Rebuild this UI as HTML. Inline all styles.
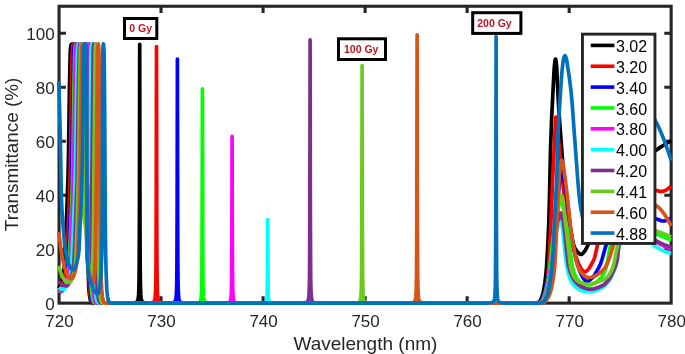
<!DOCTYPE html>
<html lang="en"><head><meta charset="utf-8"><title>Transmittance vs Wavelength</title>
<style>html,body{margin:0;padding:0;background:#fff}svg{display:block}</style></head>
<body>
<svg width="685" height="354" viewBox="0 0 685 354">
<rect width="685" height="354" fill="#fff"/>
<defs><clipPath id="ax"><rect x="56.5" y="4.7" width="616.2" height="300.6"/></clipPath></defs>
<g stroke="#262626" stroke-width="3.1" fill="none" stroke-linecap="butt">
<rect x="59.05" y="6.25" width="612.1" height="296.9"/>
<path d="M161.03 303.20v-6.90M161.03 6.10v6.90M263.07 303.20v-6.90M263.07 6.10v6.90M365.10 303.20v-6.90M365.10 6.10v6.90M467.13 303.20v-6.90M467.13 6.10v6.90M569.17 303.20v-6.90M569.17 6.10v6.90M59.00 249.20h6.90M671.20 249.20h-6.90M59.00 195.20h6.90M671.20 195.20h-6.90M59.00 141.20h6.90M671.20 141.20h-6.90M59.00 87.20h6.90M671.20 87.20h-6.90M59.00 33.20h6.90M671.20 33.20h-6.90"/>
</g>
<g clip-path="url(#ax)" fill="none" stroke-width="3.7" stroke-linejoin="round" stroke-linecap="butt">
<path d="M58.80 288.50 L60.25 285.41 L61.15 283.23 L61.90 280.95 L62.60 278.20 L63.30 274.65 L64 270.08 L64.50 263.32 L66.85 211.21 L68 176.61 L68.50 153.75 L69.45 87.83 L70.20 53.05 L70.40 49.57 L70.90 45.55 L71.15 44.75 L71.65 44.25 L72.10 44.02 L72.75 44.11 L73.35 44.70 L73.55 45.96 L73.75 49 L74.30 160 L75.35 172.61 L75.90 177.38 L76.50 181.35 L77.10 184.20 L77.75 186.23 L78.45 187.45 L78.85 187.80 L79.30 187.98 L79.65 187.99 L79.90 187.85 L80.40 187.04 L80.95 185.27 L81.45 182.78 L81.95 179.37 L82.45 174.97 L83.35 164.01 L83.70 143.88 L84.75 51.35 L85 47.19 L85.35 44.30 L85.50 44 L85.60 44.19 L85.85 46.22 L86.10 50 L86.20 53.38 L86.45 72.70 L86.80 114.02 L87.35 219.41 L87.70 249.37 L88.10 268.66 L88.80 287.89 L89.05 291.51 L89.65 296.31 L90.25 299.69 L90.85 301.63 L91.10 302 L91.90 302.64 L92.55 302.99 L93.15 303.17 L124.70 303.15 L130.50 303.08 L133.65 302.92 L135.65 302.57 L136.30 302.31 L136.85 301.93 L137.30 301.41 L137.65 300.76 L138.15 298.96 L138.60 294.92 L138.90 287.97 L139.10 277.31 L139.25 260.50 L139.45 202.16 L139.70 44.27 L140 223.54 L140.15 260.50 L140.40 283.66 L140.75 294.14 L141 297.21 L141.35 299.45 L141.80 300.87 L142.40 301.79 L143.25 302.38 L144.55 302.76 L146.55 302.98 L149.85 303.10 L166.10 303.19 L534 303.20 L535.55 303.07 L537.20 302.69 L539.15 301.92 L539.60 301.53 L540.10 300.84 L540.75 299.63 L541.45 297.97 L542.45 295.15 L542.95 293.45 L543.90 288.95 L544.90 282.43 L545.90 274.06 L546.50 267.18 L547.65 248.28 L548.80 222.33 L549.30 204.16 L550.55 148.34 L551.65 117.94 L554 71.04 L554.30 67.01 L554.80 62.42 L555.15 59.98 L555.45 59.02 L555.55 59.02 L555.70 59.32 L556 60.81 L556.70 67.19 L557.80 92 L558.70 107.27 L559.80 123.59 L563.80 176.99 L565 190.30 L566.20 200.92 L567.55 211.02 L569.05 220.71 L571.85 236.84 L573.20 243.37 L573.70 245.15 L574.15 246.37 L575 248.28 L575.85 249.85 L577.20 251.69 L578.60 253.05 L579.50 253.78 L580.20 254.19 L580.80 254.37 L581.30 254.38 L581.85 254.19 L582.45 253.77 L583.10 253.14 L585.05 250.75 L585.90 249.26 L587.80 245.38 L598.15 225.34 L602.05 218.43 L606.90 210.28 L614.80 197.78 L625.65 181.63 L631 173.92 L635.30 168.26 L638.15 164.93 L640.90 162.12 L644.35 159.01 L648.15 155.94 L653.20 152.24 L660.60 147.14 L666 143.71 L671.20 140.70" stroke="#000000"/>
<path d="M58.80 291.88 L59.30 291.49 L59.85 290.85 L61 288.89 L62.90 284.68 L64 281.58 L64.85 278.23 L65.65 273.92 L66.25 269.69 L66.55 265.76 L68.90 212.51 L70.05 176.92 L70.55 153.10 L71.45 88.12 L72.15 53.87 L72.35 49.80 L72.85 45.56 L73.10 44.74 L73.60 44.23 L74.05 44.01 L74.70 44.14 L75.25 44.70 L75.45 45.97 L75.65 49 L76.20 160 L77.15 172.84 L77.65 177.67 L78.15 181.38 L78.70 184.31 L79.25 186.25 L79.85 187.45 L80.20 187.80 L80.55 187.97 L80.85 187.99 L81.05 187.88 L81.50 187.02 L81.95 185.31 L82.40 182.67 L83.25 174.98 L84.05 163.93 L84.40 143.67 L85.45 51.35 L85.70 47.19 L86.05 44.31 L86.20 44 L86.30 44.19 L86.60 46.86 L86.90 53.38 L87.15 72.70 L87.50 114.02 L88.05 219.41 L88.40 249.38 L88.80 268.66 L89.50 287.90 L89.75 291.51 L90.30 295.97 L90.90 299.47 L91.50 301.53 L91.75 301.95 L92.40 302.50 L93.05 302.90 L93.70 303.14 L136.40 303.17 L145 303.12 L149.35 303 L151.80 302.74 L152.60 302.53 L153.25 302.23 L153.80 301.80 L154.20 301.28 L154.55 300.53 L154.80 299.70 L155.10 298.07 L155.30 296.27 L155.65 289.75 L155.90 277.55 L156.05 260.90 L156.25 203.11 L156.50 46.70 L156.80 224.28 L156.95 260.90 L157.15 281.02 L157.45 292.32 L157.70 296.27 L158 298.72 L158.40 300.39 L158.90 301.43 L159.65 302.17 L160.75 302.63 L162.55 302.92 L165.50 303.07 L180.35 303.18 L535.55 303.20 L536.80 303.12 L538.10 302.88 L539.40 302.51 L540.75 301.98 L541.20 301.63 L541.70 300.98 L542.75 298.90 L544.30 294.70 L545.20 291.52 L546.05 287.54 L546.90 282.50 L547.85 275.42 L548.30 270.89 L549 260.67 L549.85 244.72 L551.05 219.46 L552.70 177.84 L555.20 127.58 L555.70 118.68 L555.90 117 L556.10 118.01 L556.60 124 L558.45 139.56 L559.90 153.09 L564.60 201.66 L566.25 214.03 L568.15 225.65 L569.90 234.54 L571.65 241.99 L573.75 249.53 L576.55 258.41 L578.25 262.93 L580.55 267.78 L581.70 269.49 L583 270.86 L583.85 271.53 L584.65 271.80 L585.50 271.63 L586.60 270.99 L587.95 269.88 L588.95 268.52 L591.10 264.99 L593.05 261.40 L594.10 258.93 L594.75 256.97 L597.15 246.57 L598.60 241.24 L599.55 238.19 L600.65 235.47 L602.25 231.95 L603.80 228.87 L605.40 225.96 L607.45 222.59 L609.75 219.16 L617.80 208.23 L622.45 202.27 L624.40 200.03 L626.20 198.15 L627.75 196.72 L629.25 195.52 L635.10 191.65 L638.75 189.63 L640.35 188.94 L641.85 188.45 L643.15 188.16 L644.40 188.02 L645.65 188.02 L647.05 188.15 L649.30 188.60 L654.80 190.14 L659.10 191.12 L660.70 191.37 L662.10 191.37 L663.15 191.21 L664.25 190.89 L665.35 190.43 L666.50 189.81 L668.80 188.13 L671.20 185.83" stroke="#ff0000"/>
<path d="M58.80 291.80 L59.50 291.98 L60.25 291.96 L60.80 291.63 L61.35 291 L62 289.96 L62.70 288.56 L64.80 283.66 L65.80 280.52 L66.65 276.77 L67.55 271.23 L67.95 267.31 L68.45 257.83 L70.30 215.03 L70.95 197.26 L71.50 178.80 L71.95 159.25 L72.90 91.12 L73.65 53.87 L73.85 49.80 L74.35 45.56 L74.65 44.68 L75.15 44.19 L75.60 44.01 L76.20 44.14 L76.75 44.70 L76.95 45.97 L77.15 49 L77.70 160 L78.55 172.50 L79 177.31 L79.50 181.37 L80 184.28 L80.50 186.21 L81.05 187.43 L81.35 187.78 L81.70 187.97 L81.95 188 L82.15 187.86 L82.55 186.97 L82.95 185.22 L83.35 182.58 L84.15 174.49 L84.85 163.88 L85.20 143.51 L86.25 51.35 L86.50 47.19 L86.85 44.31 L87 44 L87.10 44.20 L87.40 46.86 L87.70 53.38 L87.95 72.70 L88.30 114.02 L88.85 219.41 L89.20 249.38 L89.55 266.85 L90.25 286.95 L90.55 291.51 L90.95 294.88 L91.60 298.98 L92.25 301.41 L92.55 301.95 L93 302.35 L93.70 302.82 L94.35 303.10 L95 303.20 L144.70 303.19 L162.05 303.16 L169.05 303.06 L172.05 302.86 L173.80 302.45 L174.40 302.12 L174.85 301.71 L175.25 301.11 L175.55 300.38 L175.90 298.94 L176.15 297.11 L176.50 291.72 L176.75 282.09 L176.90 269.54 L177.15 207.96 L177.40 59.12 L177.70 228.11 L177.85 262.94 L178.05 282.09 L178.35 292.84 L178.55 296.04 L178.85 298.64 L179.20 300.22 L179.70 301.37 L180.35 302.08 L181.30 302.56 L182.95 302.88 L185.70 303.06 L199.50 303.18 L535.50 303.20 L537.30 303.03 L539.15 302.54 L540.65 301.92 L541.05 301.56 L541.45 301.02 L542.50 298.92 L544.05 294.86 L545.15 290.74 L547.40 279.52 L548.40 275.34 L549.45 272.38 L551.45 268.39 L552.20 266.60 L553 264.06 L553.65 261.20 L554.20 256.55 L554.80 249.09 L558.25 196.82 L558.95 187.59 L559.70 180.52 L560.35 175.78 L561.20 171.98 L561.45 171.27 L561.70 171 L561.95 171.24 L562.20 171.86 L563.15 175.44 L566.05 191.03 L567 198.06 L569.90 223.61 L570.75 230.36 L572.85 243.83 L573.90 249.50 L575.05 254.98 L576.35 260.36 L577.80 265.35 L579.25 269.60 L580.90 273.64 L582.15 276.35 L583.15 278.05 L585.10 280.32 L585.75 280.89 L586.35 281.25 L587 281.40 L587.90 281.26 L588.80 280.87 L589.80 280.21 L592.80 277.50 L593.60 276.50 L594.55 275.04 L598.90 267.37 L600.60 263.75 L602.15 258.99 L605.55 246.71 L607.15 242.64 L608.85 238.96 L610.55 235.97 L612.20 233.77 L615.35 230.49 L617 229.03 L618.65 227.73 L620.80 226.25 L623.05 224.95 L629.40 222.06 L632.60 220.76 L635.40 219.75 L638 218.98 L640.40 218.44 L642.75 218.11 L645 218 L648.35 218.11 L652.15 218.45 L656.90 219.09 L658.05 219.45 L661.30 220.72 L662.25 220.94 L663.15 221 L665.20 220.79 L667.20 220.22 L669.20 219.29 L671.20 218.00" stroke="#0000ff"/>
<path d="M58.80 291 L59.75 291.38 L60.80 291.50 L61.35 291.43 L61.90 291.04 L62.55 290.22 L63.25 288.99 L65.25 284.56 L66.45 281.27 L67.45 277.29 L68.45 271.48 L68.95 266.86 L69.45 257.40 L71.30 214.68 L71.95 196.95 L72.50 178.53 L72.95 159.02 L73.90 91.03 L74.65 53.85 L74.85 49.79 L75.35 45.55 L75.50 44.95 L75.70 44.62 L76.20 44.16 L76.65 44 L77.25 44.17 L77.75 44.70 L77.95 45.97 L78.15 49 L78.70 160 L79.55 172.50 L80 177.31 L80.50 181.37 L81 184.28 L81.50 186.21 L82.05 187.43 L82.35 187.78 L82.70 187.97 L82.95 188 L83.15 187.86 L83.55 186.97 L83.95 185.22 L84.35 182.58 L85.15 174.49 L85.85 163.88 L86.20 143.51 L87.25 51.35 L87.50 47.19 L87.85 44.31 L88 44 L88.10 44.20 L88.40 46.86 L88.70 53.38 L89 77.82 L89.30 114.02 L89.85 219.41 L90.15 245.93 L90.50 265 L91.20 285.93 L91.50 290.95 L91.85 294.10 L92.55 298.73 L93.20 301.29 L93.45 301.81 L93.80 302.18 L94.55 302.74 L95.25 303.07 L96 303.20 L175.75 303.19 L192.55 303.11 L196.25 302.97 L198.30 302.69 L199 302.46 L199.55 302.15 L200 301.72 L200.35 301.18 L200.75 300.10 L201.05 298.60 L201.45 294.10 L201.70 287.02 L201.90 273.63 L202.15 219.55 L202.40 88.82 L202.70 237.24 L202.85 267.84 L203.05 284.66 L203.35 294.10 L203.55 296.91 L203.80 298.91 L204.15 300.44 L204.60 301.44 L205.25 302.15 L206.15 302.59 L208.15 302.94 L211.85 303.10 L235.75 303.19 L536.05 303.20 L537.50 303.08 L539 302.75 L540.35 302.28 L541.25 301.85 L541.85 301.17 L542.55 299.94 L543.55 297.57 L544.90 293.81 L545.75 290.75 L546.60 287.03 L548.05 279.43 L549.25 271.92 L550.10 264.66 L552.30 243.43 L552.90 238.69 L553.65 233.83 L554.80 227.29 L559 205.23 L559.55 202.87 L560.35 200.17 L560.70 199.29 L561 199 L561.30 199.28 L561.60 200 L562.30 202.35 L562.70 204.07 L564.90 217.46 L567.40 230 L569.05 241.33 L571.80 263.06 L572.25 265.76 L573 268.95 L573.90 272.07 L574.85 274.63 L576 276.92 L577.55 279.50 L578.80 281.18 L580 282.38 L580.90 282.95 L582.80 283.73 L585.50 284.56 L588 284.96 L589.95 284.93 L591.95 284.43 L594.70 283.19 L596.25 282.36 L597.20 281.71 L599.20 279.83 L601.45 277.07 L602.75 275.14 L603.95 272.94 L605.10 270.38 L606.15 267.54 L607.15 263.24 L609.10 252.12 L609.95 247.96 L610.35 246.46 L610.95 244.73 L612.75 240.19 L614.30 237.16 L615.05 236.04 L615.75 235.23 L617.25 233.97 L618.90 232.74 L620.50 231.72 L622.10 230.84 L623.75 230.11 L625.35 229.56 L626.95 229.17 L628.65 228.92 L633.35 228.41 L637.65 228.11 L642.10 228 L643.75 228.17 L645.60 228.66 L647.65 229.49 L654 232.87 L656.05 233.85 L671.20 240.00" stroke="#00ff00"/>
<path d="M58.80 290 L59.60 290.54 L60.40 290.85 L61.40 290.99 L62.15 290.93 L62.65 290.59 L63.20 289.95 L64.45 287.72 L66.55 282.91 L67.75 279.14 L68.35 276.54 L68.90 273.58 L69.55 269.20 L69.75 267.10 L70.25 258.15 L72.15 214.72 L72.80 197.23 L73.40 177.27 L73.90 154.36 L74.85 86.95 L75.55 53.44 L75.75 49.64 L76.25 45.51 L76.40 44.93 L76.60 44.61 L77.10 44.16 L77.55 44 L78.15 44.17 L78.65 44.70 L78.85 45.97 L79.05 49 L79.60 160 L80.55 172.62 L81.05 177.41 L81.60 181.42 L82.15 184.29 L82.70 186.20 L83.35 187.47 L83.70 187.81 L84.05 187.97 L84.35 188 L84.60 187.85 L85.05 186.98 L85.50 185.30 L85.95 182.75 L86.85 174.80 L87.65 163.95 L88 143.71 L89.05 51.35 L89.30 47.19 L89.65 44.31 L89.80 44 L89.90 44.20 L90.20 46.86 L90.50 53.38 L90.80 77.82 L91.10 114.02 L91.65 219.41 L91.95 245.93 L92.30 265 L93 285.93 L93.30 290.95 L93.65 294.10 L94.35 298.73 L95 301.29 L95.25 301.81 L95.60 302.18 L96.35 302.74 L97.05 303.07 L97.80 303.20 L220.85 303.15 L225.20 303.06 L227.60 302.87 L229 302.51 L229.50 302.22 L229.90 301.83 L230.35 301.05 L230.65 300.09 L231.10 296.78 L231.40 290.61 L231.60 280.19 L231.85 238.09 L232.10 136.34 L232.40 251.86 L232.55 275.68 L232.75 288.77 L233.05 296.12 L233.25 298.30 L233.50 299.86 L233.85 301.05 L234.30 301.83 L234.95 302.38 L235.85 302.73 L237.90 303 L241.65 303.13 L266.60 303.19 L536.35 303.20 L537.65 303.10 L539 302.83 L541.45 301.92 L542 301.42 L542.55 300.63 L543.60 298.52 L545 295 L546.25 290.86 L547.80 283.87 L549.95 272.46 L553.60 247.49 L555.80 233.94 L556.90 227.80 L557.85 223.55 L559.10 219.43 L559.90 217.65 L560.55 216.77 L560.95 216.50 L561.20 216.55 L561.45 216.75 L562.10 217.70 L562.45 218.95 L562.85 221.26 L564.70 236.68 L566.30 252.67 L567 258 L567.75 261.82 L568.55 265.15 L569.45 268.27 L570.90 272.72 L572.40 276.84 L573.65 279.60 L574.65 281.21 L576.70 283.74 L578.65 285.68 L580.60 287.10 L582 287.80 L585.60 289.08 L587.15 289.48 L588.55 289.71 L589.85 289.80 L591.20 289.75 L592.65 289.55 L594.20 289.21 L597.55 288.06 L602.05 285.97 L603.60 284.99 L604.75 284.03 L605.95 282.85 L608.65 279.67 L610.25 277.17 L612.05 273.63 L614.50 268.18 L615.85 264.36 L616.65 261.38 L617.10 259.17 L618.55 246.68 L619.25 244.12 L620.15 241.51 L621.25 239.08 L622.30 237.57 L623 237 L625.70 235.62 L627.90 234.67 L630.15 233.85 L632.45 233.19 L634.75 232.67 L637.35 232.27 L639.95 232.05 L642.25 232.01 L643.50 232.22 L645.20 232.95 L647.05 234.18 L648.90 235.72 L653.55 239.95 L656.05 241.79 L660.10 244.02 L664 245.97 L667.70 247.63 L671.20 249.00" stroke="#ff00ff"/>
<path d="M58.80 287.60 L59.85 288.40 L60.90 288.91 L62.10 289.22 L63.50 289.30 L63.95 289.18 L64.40 288.86 L65.40 287.52 L66.35 285.70 L67.95 282.14 L68.70 280.22 L69.30 278.34 L69.95 275.78 L70.55 272.79 L71.15 269.07 L71.50 266.19 L72.05 256.82 L73.95 214.29 L74.60 197.32 L75.20 178.04 L75.75 153.79 L76.70 87.50 L77.45 52.65 L77.70 48.82 L78.15 45.42 L78.30 44.88 L78.55 44.54 L79 44.15 L79.45 44 L80.05 44.17 L80.55 44.70 L80.75 45.97 L80.95 49 L81.50 160 L82.45 172.51 L82.95 177.28 L83.50 181.29 L84.05 184.18 L84.65 186.25 L85.30 187.48 L85.65 187.81 L86 187.97 L86.30 188 L86.55 187.86 L87 187.03 L87.50 185.18 L87.95 182.62 L88.85 174.71 L89.65 163.96 L90 143.73 L91.05 51.35 L91.30 47.19 L91.65 44.31 L91.80 44 L91.90 44.20 L92.20 46.86 L92.50 53.38 L92.80 77.82 L93.10 114.02 L93.65 219.41 L93.95 245.93 L94.30 265 L94.95 284.83 L95.25 290.30 L95.60 293.70 L96.30 298.46 L96.95 301.15 L97.40 302 L98.20 302.64 L99 303.05 L99.80 303.20 L254.25 303.18 L262.65 303.07 L264.35 302.90 L265.35 302.60 L265.80 302.28 L266.15 301.83 L266.45 301.11 L266.65 300.27 L266.95 297.64 L267.15 293.43 L267.40 277.45 L267.70 219.50 L268 277.45 L268.15 289.40 L268.35 295.96 L268.65 299.65 L268.90 300.94 L269.20 301.74 L269.60 302.28 L270.15 302.65 L270.90 302.87 L272 303.02 L276.40 303.16 L289.10 303.19 L536.60 303.20 L538 303.09 L539.45 302.78 L540.80 302.33 L541.85 301.86 L542.45 301.28 L543.10 300.33 L544.20 298.13 L545.65 294.62 L546.40 292.40 L547.15 289.71 L548.80 282.41 L550.50 273.16 L551.40 266.13 L553.60 246.12 L554.20 241.76 L554.80 238.44 L556.15 232.28 L557.55 227.43 L558.40 225.15 L559.05 223.73 L559.95 222.39 L560.45 222 L560.70 222.05 L560.95 222.24 L561.55 223.10 L562 225.06 L563.40 236.74 L565.05 254.11 L565.85 260.54 L566.60 265.40 L567.30 269.11 L568.35 273.40 L569.40 276.98 L570.40 279.71 L571.45 281.84 L572.85 284.06 L574.35 285.88 L576.55 287.80 L578.70 289.27 L580.45 290.11 L582.95 290.88 L584.90 291.37 L586.60 291.67 L588.10 291.79 L589.70 291.76 L591.50 291.56 L593.35 291.19 L595.35 290.65 L597.50 289.91 L601.30 288.36 L603.15 287.19 L604.35 286.18 L605.65 284.88 L608.55 281.44 L610.30 278.74 L612.15 275.09 L614.65 269.20 L616 265.27 L616.85 262.04 L617.45 259.13 L618.85 246.69 L619.95 243 L620.95 240.58 L621.90 238.98 L622.75 238.14 L624.15 237.49 L626.45 236.58 L628.80 235.82 L631.15 235.19 L633.60 234.70 L636.35 234.31 L639.20 234.07 L642.10 234 L643.15 234.19 L643.95 234.54 L644.75 235.03 L646.50 236.55 L648.30 238.54 L653.10 244.43 L654.55 245.91 L655.85 246.96 L660.45 249.47 L664.45 251.31 L667.95 252.52 L671.20 253.20" stroke="#00ffff"/>
<path d="M58.80 281 L59.80 282.38 L60.90 283.59 L62.05 284.54 L63.15 285.19 L64.55 285.68 L66 285.88 L67.10 285.87 L67.75 285.39 L68.50 284.24 L69.35 282.41 L70.90 278.48 L71.70 275.99 L72.30 273.55 L72.85 270.68 L73.80 263.72 L74.30 254.53 L75.95 212.70 L77.05 176.77 L77.50 155.12 L78.30 91.42 L79 53.13 L79.20 49.18 L79.65 45.28 L79.80 44.77 L80.05 44.44 L80.40 44.13 L80.75 44 L83.50 44.13 L85.60 44.60 L85.85 45.92 L86.05 49 L86.30 100 L86.40 225 L86.50 234.36 L86.75 249.03 L87 255.40 L87.45 260.89 L87.90 264.97 L88.30 267.21 L88.50 267.80 L88.70 268 L90.50 268 L90.75 263.12 L91.60 209.34 L93.05 56.58 L93.20 50 L93.60 45.19 L93.80 44.14 L93.90 44 L93.95 44.05 L94.10 44.76 L94.30 46.86 L94.60 53.38 L94.90 77.82 L95.20 114.02 L95.75 219.41 L96.05 245.93 L96.40 265 L97.10 285.93 L97.40 290.95 L97.75 294.10 L98.45 298.73 L99.10 301.29 L99.35 301.81 L99.70 302.18 L100.45 302.74 L101.15 303.07 L101.90 303.20 L295.80 303.15 L301.65 303.05 L304.70 302.84 L305.70 302.66 L306.45 302.41 L307.05 302.07 L307.55 301.59 L308.05 300.72 L308.45 299.39 L308.75 297.55 L309 294.78 L309.35 285.73 L309.55 272.46 L309.80 222.21 L310.10 39.95 L310.40 222.21 L310.70 276.88 L310.95 289.39 L311.15 293.98 L311.40 297.11 L311.70 299.15 L312.10 300.59 L312.65 301.59 L313.40 302.24 L314.15 302.56 L315.10 302.78 L318.25 303.04 L324.30 303.15 L338 303.19 L537.05 303.20 L538.90 303.01 L540.85 302.46 L542.10 301.95 L542.75 301.42 L543.60 300.22 L544.55 298.38 L546.05 294.88 L546.85 292.66 L547.80 289.41 L548.75 285.51 L550.20 278.36 L551.25 271.96 L552.10 264.36 L554.35 241.12 L554.95 236.34 L556 229.66 L557.35 222.48 L558.65 217.44 L559.25 215.59 L559.75 214.42 L560.50 213.32 L560.95 213 L561.20 213.05 L561.45 213.25 L562.10 214.19 L562.45 215.40 L562.85 217.61 L564.75 233.25 L566.30 248.26 L567.90 261.68 L568.70 266.57 L570.20 271.91 L571.45 275.23 L572.80 277.91 L574.70 280.65 L576.85 283.19 L578.80 285.02 L580.70 286.35 L582.70 287.29 L585.85 288.44 L587.40 288.85 L588.80 289.10 L590.10 289.20 L591.50 289.15 L593.05 288.97 L594.70 288.63 L598.25 287.52 L602.40 285.75 L603.90 284.84 L605 283.94 L606.15 282.82 L608.75 279.81 L610.30 277.44 L612.05 274.06 L614.70 268.22 L616 264.59 L616.75 261.82 L617.25 259.46 L618.35 248.98 L618.70 246.45 L619.55 243.43 L620.50 240.79 L621.55 238.66 L622.60 237.31 L624.80 235.88 L627.55 234.41 L629.55 233.51 L631.60 232.74 L633.65 232.11 L635.75 231.62 L638.05 231.24 L640.35 231.04 L642.25 231.01 L643.45 231.22 L645.10 231.92 L646.90 233.12 L648.70 234.63 L653.35 238.87 L654.75 239.97 L656 240.78 L660.20 242.87 L664.15 244.61 L667.80 245.98 L671.20 247.00" stroke="#7e2f8e"/>
<path d="M58.80 266 L60 270.18 L61.25 273.77 L62.45 276.54 L63.70 278.79 L65.05 280.55 L66.55 281.77 L68.20 282.39 L69.85 282.48 L70.20 282.26 L70.55 281.84 L71.30 280.40 L72.75 276.47 L73.60 273.79 L74.20 271.32 L74.70 268.64 L75.60 261.79 L75.85 258.34 L76.10 252.67 L77.45 214.16 L78.50 176.52 L78.90 155.54 L79.65 88.71 L80.25 52.40 L80.45 48.54 L80.80 45.26 L80.90 44.84 L81.15 44.43 L81.50 44.09 L81.80 44 L82.15 44.11 L82.45 44.39 L82.65 44.71 L82.75 45.16 L83.05 49 L83.10 52.34 L83.30 100 L83.45 200 L83.65 210.91 L83.90 215.40 L84.35 220.09 L84.70 222.41 L85.60 226.92 L86.05 230.49 L86.55 236.65 L87.65 252.90 L89.15 271.48 L89.75 277.03 L90.05 278.57 L90.30 279 L90.50 278.91 L90.70 278.65 L91.10 277.58 L91.50 275.79 L91.85 273.61 L92.50 268 L92.75 261.79 L93.15 240.99 L93.60 209.34 L95.05 56.58 L95.20 50 L95.55 45.61 L95.75 44.31 L95.90 44 L96.05 44.44 L96.25 46.22 L96.50 50 L96.60 53.38 L96.85 72.70 L97.20 114.02 L97.75 219.41 L98.05 245.93 L98.40 265 L99.10 285.93 L99.40 290.95 L99.75 294.10 L100.45 298.73 L101.10 301.29 L101.35 301.81 L101.70 302.18 L102.45 302.74 L103.15 303.07 L103.90 303.20 L345.80 303.16 L352.65 303.09 L356.15 302.93 L358.15 302.59 L358.80 302.33 L359.35 301.95 L359.90 301.25 L360.35 300.14 L360.70 298.45 L360.95 296.23 L361.30 289.23 L361.55 275.45 L361.80 230.10 L362.10 65.60 L362.40 230.10 L362.70 279.44 L362.95 290.74 L363.15 294.88 L363.40 297.71 L363.70 299.55 L364.10 300.85 L364.65 301.75 L365.35 302.30 L366.60 302.73 L368.55 302.97 L377.50 303.16 L537.35 303.20 L538.50 303.12 L539.75 302.88 L541.10 302.47 L542.45 301.93 L542.90 301.60 L543.40 301.06 L544.50 299.33 L545.95 296.28 L547.25 293.04 L548.20 289.96 L549.10 286.42 L550 282.24 L550.85 277.67 L551.55 273.30 L552.20 267.48 L555.10 232.09 L557.40 210.56 L558.30 204.13 L559.40 198.50 L560.10 196.19 L560.65 195.31 L561.05 195 L561.30 195.07 L561.55 195.30 L562.15 196.36 L562.50 197.92 L562.85 200.27 L568.70 250.86 L569.95 262.33 L570.75 267.78 L571.50 270.78 L572.25 273.23 L573.05 275.28 L573.85 276.78 L575.35 278.74 L576.95 280.40 L578.55 281.62 L580.20 282.46 L583.65 283.61 L586.50 284.23 L589.05 284.39 L591.45 284.08 L594.80 283.07 L602.55 280.03 L604.10 279.25 L605.55 278.37 L607 277.30 L607.85 276.50 L609.10 274.93 L610.40 272.82 L611.75 270.13 L612.90 267.39 L614.05 262.95 L616.30 251.64 L617.25 247.52 L619.30 241.30 L620.95 237.11 L621.95 235.22 L622.85 234.12 L625.95 232 L629.10 230.24 L631.10 229.31 L633.05 228.56 L635.05 227.94 L637 227.49 L639.05 227.17 L641.10 227.02 L642.85 227.02 L644.60 227.22 L646.60 227.63 L648.90 228.31 L659.80 232.19 L665.30 234.36 L671.20 237.00" stroke="#6acb1e"/>
<path d="M58.80 232 L60.75 247.35 L61.90 254.74 L62.95 260.45 L64.10 265.71 L65.20 269.70 L66.35 273.04 L67.55 275.52 L68.55 276.99 L69.40 277.77 L70.10 278.24 L70.65 278.45 L72 278.60 L72.30 278.50 L72.60 278.20 L73.05 277.46 L73.60 276.16 L75.25 271.11 L76 268.06 L76.65 264.26 L77.40 257.85 L77.70 252.38 L79.10 209.63 L79.75 185.73 L80.35 154.74 L81.05 87.60 L81.65 50.46 L82.05 45.50 L82.20 44.77 L82.45 44.37 L82.90 44.01 L83.85 44.03 L85.05 44.25 L85.95 44.67 L86.15 45.93 L86.35 49 L86.45 58.30 L86.60 100 L86.70 225 L87.10 250.82 L87.35 256.15 L88.30 266.84 L89.15 274.18 L90 279.52 L90.45 281.58 L90.90 283.14 L91.35 284.22 L91.80 284.83 L92.25 284.99 L92.55 284.72 L92.90 283.88 L93.25 282.47 L94.05 277.08 L94.85 268.63 L95.05 264.83 L95.25 257.24 L96 209.34 L97.45 56.58 L97.65 49.23 L98 45.20 L98.15 44.31 L98.30 44 L98.45 44.44 L98.60 45.66 L98.95 51.30 L99.20 67.90 L99.60 114.02 L100.15 219.41 L100.45 245.93 L100.75 263 L101.30 281.15 L101.85 291.51 L102.45 296.32 L103.05 299.70 L103.60 301.53 L103.85 301.95 L104.25 302.31 L105.30 302.98 L106.30 303.20 L358.10 303.20 L406.20 303.11 L411.35 302.88 L412.75 302.63 L413.70 302.27 L414.50 301.62 L415.05 300.67 L415.50 299.07 L415.80 297 L416.05 293.81 L416.25 289.12 L416.50 276.37 L416.80 220.63 L417.10 34.82 L417.40 220.63 L417.70 276.37 L417.95 289.12 L418.35 296.50 L418.65 298.81 L419 300.26 L419.50 301.35 L420.15 302.05 L421.25 302.58 L422.90 302.88 L425.55 303.05 L430.15 303.14 L539.05 303.20 L540.85 303.04 L542.85 302.57 L544.70 301.91 L545.65 301.20 L547 299.45 L548.45 296.82 L549.75 293.91 L550.80 290.69 L551.75 286.81 L552.70 281.88 L553.60 276.12 L554.45 269.57 L554.90 264.15 L555.45 254.61 L558.45 190.37 L559.05 179.38 L559.75 170.97 L560.40 165.22 L560.70 163.44 L561.10 161.83 L561.45 160.74 L561.75 160.31 L561.95 160.39 L562.20 160.90 L563 163.85 L564.40 172.70 L565.55 181.38 L566.85 192.23 L570.90 230 L572.70 241.81 L575.85 258.71 L576.60 262.15 L577.25 264.55 L578.10 266.83 L579.05 268.83 L580.65 271.55 L582.10 273.61 L583.70 275.26 L585.20 276.43 L585.90 276.77 L587.40 277.21 L588.50 277.43 L589.50 277.50 L591.35 277.25 L594.10 276.41 L595.45 275.77 L597.15 274.79 L600.05 272.83 L602.45 270.73 L604.60 268.33 L605.55 266.94 L606.60 264.97 L607.75 262.40 L609.15 258.90 L610.25 255.80 L612.80 247.11 L614.90 241.81 L617.95 235.23 L619.60 232.11 L621.30 229.15 L623.90 225 L626.50 221.15 L629 217.76 L631.40 214.81 L633.80 212.18 L640 206 L642 204.23 L643.75 203.01 L645.15 202.35 L646.50 202.03 L647.95 202.06 L649.55 202.38 L651.40 203.06 L653.50 204.11 L656.70 205.99 L658.35 207.21 L659.80 208.54 L661.30 210.17 L662.85 212.10 L664.40 214.26 L667.65 219.45 L671.20 226.00" stroke="#d95319"/>
<path d="M58.80 81 L60.25 132.70 L61.30 195 L62.05 212 L63.50 231.43 L64.40 241.61 L65.20 248.62 L66.45 256.29 L67.55 261.31 L68.15 263.15 L69 264.95 L70.15 267.08 L71.15 268.56 L72 269.45 L72.85 269.93 L73.50 269.96 L74.05 269.47 L74.75 268.20 L75.65 265.90 L76.80 262.54 L77.50 259.87 L78.10 256.76 L78.65 252.96 L79.05 249.41 L79.25 246.21 L80.20 222.02 L81.50 193.39 L82.25 167.38 L82.55 150.66 L83.05 85.08 L83.55 49.96 L83.85 45.95 L84.10 44.66 L84.60 44.09 L84.85 44 L85.15 44.03 L85.50 44.21 L85.85 44.54 L86.05 45.14 L86.35 49 L86.40 53.41 L87.15 221.65 L87.35 252.43 L87.50 262 L88.05 268.92 L88.70 273.95 L89.30 276.68 L91.15 282.75 L93 287.95 L93.85 289.90 L94.70 291.52 L95.50 292.70 L96.30 293.52 L97.15 293.96 L97.55 294 L97.75 293.89 L98.05 293.46 L98.35 292.75 L99 290.36 L99.95 285.30 L100.35 282.21 L100.75 277.31 L101.15 270.41 L101.75 254.21 L102.05 237.44 L102.25 217.21 L102.55 113.06 L102.85 53.05 L102.90 50 L103.10 46.15 L103.30 44.24 L103.40 44 L103.50 44.20 L103.80 46.86 L104.05 51.30 L104.30 67.90 L104.70 114.02 L105.25 219.41 L105.65 252.59 L106.05 270.42 L106.75 288.78 L107 292 L107.65 296.98 L108.25 300.12 L108.80 301.73 L109.15 302.14 L109.90 302.71 L110.50 303.02 L111.10 303.18 L476.30 303.17 L484.80 303.12 L489.10 302.98 L491.50 302.70 L492.30 302.46 L492.95 302.13 L493.70 301.36 L494.20 300.28 L494.55 298.84 L494.85 296.55 L495.25 289.22 L495.50 276.55 L495.80 221.21 L496.10 36.71 L496.40 221.21 L496.70 276.55 L496.95 289.22 L497.35 296.55 L497.65 298.84 L498 300.28 L498.50 301.36 L499.20 302.10 L500.10 302.54 L501.40 302.82 L503.25 302.99 L506.10 303.09 L537.55 303.20 L539.85 302.96 L541.45 302.55 L543.10 301.96 L543.70 301.55 L544.35 300.85 L545.35 299.30 L546.40 297.16 L547.45 294.60 L548.15 292.31 L549.30 286.98 L550.50 279.37 L551.85 268.30 L552.60 260.15 L553.40 245.89 L555.15 207.85 L556.60 182.34 L556.90 174.01 L557.75 141.33 L558.30 128.61 L559 115.65 L561.20 81.47 L562.10 69.92 L562.85 63.38 L563.45 59.43 L563.70 58.33 L564.10 57.15 L564.50 56.21 L564.80 55.79 L565 55.70 L565.25 55.84 L565.75 56.77 L566.35 58.50 L566.80 60.76 L569.55 79.29 L570.50 86.83 L571.40 95 L572.45 107.30 L574.35 134.10 L578 182.77 L579.10 195.37 L580.10 204.06 L581.10 209.97 L582.30 216 L583.45 220.83 L584.55 224.54 L585.60 227.21 L587.10 229.94 L588.90 232.78 L590.45 234.66 L591.25 235.34 L592.05 235.80 L592.80 235.99 L593.50 235.94 L594.25 235.65 L595.05 235.08 L595.85 234.27 L596.65 233.24 L598.30 230.53 L600.15 226.73 L602.25 221.80 L605.65 213.28 L606.55 210.49 L607.45 207.28 L609.45 198.89 L611.55 188.73 L617.50 158.06 L619.30 149.86 L620.95 143.41 L627.75 122.47 L629.65 116.97 L631.30 112.56 L633 108.51 L634.60 105.28 L636.10 102.86 L637.55 101.17 L638.80 100.29 L639.40 100.07 L640 100 L640.70 100.07 L641.40 100.28 L642.85 101.12 L644.35 102.49 L645.95 104.43 L647.65 106.93 L649.60 110.20 L657.05 123.87 L658.90 127.64 L660.80 131.88 L663.25 137.86 L665.75 144.50 L668.40 152.04 L671.20 160.50" stroke="#0072bd"/>
</g>
<g font-family="'Liberation Sans', sans-serif" fill="#262626">
<g font-size="17" text-anchor="middle">
<text x="59.5" y="326.6">720</text>
<text x="161.5" y="326.6">730</text>
<text x="263.6" y="326.6">740</text>
<text x="365.6" y="326.6">750</text>
<text x="467.6" y="326.6">760</text>
<text x="569.7" y="326.6">770</text>
<text x="671.7" y="326.6">780</text>
</g>
<g font-size="17" text-anchor="end">
<text x="54.6" y="309.5">0</text>
<text x="54.6" y="255.5">20</text>
<text x="54.6" y="201.5">40</text>
<text x="54.6" y="147.5">60</text>
<text x="54.6" y="93.5">80</text>
<text x="54.6" y="39.5">100</text>
</g>
<text x="365.4" y="349.6" font-size="19" text-anchor="middle">Wavelength (nm)</text>
<text transform="translate(17.9 154.4) rotate(-90)" font-size="18.9" text-anchor="middle">Transmittance (%)</text>
</g>
<rect x="582.45" y="34.15" width="72.5" height="209.3" fill="#fff" stroke="#262626" stroke-width="2.9"/>
<g stroke-width="3.6" fill="none">
<path d="M590.7 45.40H614.4" stroke="#000000"/>
<path d="M590.7 66.25H614.4" stroke="#ff0000"/>
<path d="M590.7 87.10H614.4" stroke="#0000ff"/>
<path d="M590.7 107.95H614.4" stroke="#00ff00"/>
<path d="M590.7 128.80H614.4" stroke="#ff00ff"/>
<path d="M590.7 149.65H614.4" stroke="#00ffff"/>
<path d="M590.7 170.50H614.4" stroke="#7e2f8e"/>
<path d="M590.7 191.35H614.4" stroke="#6acb1e"/>
<path d="M590.7 212.20H614.4" stroke="#d95319"/>
<path d="M590.7 233.05H614.4" stroke="#0072bd"/>
</g>
<g font-family="'Liberation Sans', sans-serif" fill="#000" font-size="16">
<text x="615.9" y="52.00">3.02</text>
<text x="615.9" y="72.85">3.20</text>
<text x="615.9" y="93.70">3.40</text>
<text x="615.9" y="114.55">3.60</text>
<text x="615.9" y="135.40">3.80</text>
<text x="615.9" y="156.25">4.00</text>
<text x="615.9" y="177.10">4.20</text>
<text x="615.9" y="197.95">4.41</text>
<text x="615.9" y="218.80">4.60</text>
<text x="615.9" y="239.65">4.88</text>
</g>
<rect x="124.5" y="18.5" width="32.3" height="20.0" fill="#fff" stroke="#000" stroke-width="3.0"/><text x="140.7" y="32.3" font-family="'Liberation Sans', sans-serif" font-weight="bold" font-size="10.5" fill="#c4121a" text-anchor="middle">0 Gy</text>
<rect x="338.5" y="38.8" width="47.0" height="20.7" fill="#fff" stroke="#000" stroke-width="3.0"/><text x="361.2" y="52.9" font-family="'Liberation Sans', sans-serif" font-weight="bold" font-size="10.5" fill="#c4121a" text-anchor="middle">100 Gy</text>
<rect x="472.7" y="12.7" width="48.2" height="20.7" fill="#fff" stroke="#000" stroke-width="3.0"/><text x="494.5" y="26.8" font-family="'Liberation Sans', sans-serif" font-weight="bold" font-size="10.5" fill="#c4121a" text-anchor="middle">200 Gy</text>
</svg>
</body></html>
